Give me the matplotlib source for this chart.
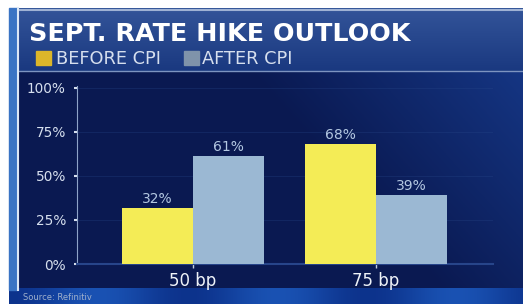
import numpy as np
import matplotlib
matplotlib.use("Agg")
import matplotlib.pyplot as plt
from matplotlib.patches import Rectangle

# data
categories = ["50 bp", "75 bp"]
before_cpi = [32, 68]
after_cpi = [61, 39]
y_ticks = [0, 25, 50, 75, 100]
y_tick_labels = ["0%", "25%", "50%", "75%", "100%"]

TITLE = "SEPT. RATE HIKE OUTLOOK"
LEGEND = ["BEFORE CPI", "AFTER CPI"]
SOURCE = "Source: Refinitiv"

YELLOW = "#f4ec56"
BLUE = "#9bb8d3"
TEXT = "#d6dfee"
W, H = 523, 304

plt.rcParams["font.family"] = ["DejaVu Sans"]
fig = plt.figure(figsize=(W / 100, H / 100), dpi=100, facecolor="white")

# background layer in pixel coords (y down)
bg = fig.add_axes([0, 0, 1, 1], zorder=0)
bg.set_xlim(0, W)
bg.set_ylim(H, 0)
bg.axis("off")

# dark navy panel with lighter diagonal toward the right
yy, xx = np.mgrid[0:1:200j, 0:1:300j]
diag = np.clip((xx - 0.55) * 1.6 - (yy - 0.2) * 0.6, 0, 1)
c0 = np.array([0.04, 0.10, 0.32])
c1 = np.array([0.09, 0.23, 0.55])
img = c0 + (c1 - c0) * diag[..., None]
bg.imshow(img, extent=(9, W, 290, 72), aspect="auto", zorder=1)

# bottom bright band
band = np.linspace(0, 1, 300)
bimg = np.array([0.05, 0.20, 0.55]) + np.array([0.05, 0.12, 0.15]) * np.sin(band * 9)[None, :, None] ** 2
bimg = np.repeat(bimg, 10, axis=0)
bg.imshow(np.clip(bimg, 0, 1), extent=(9, W, H, 288), aspect="auto", zorder=1)

# title banner gradient
t = np.linspace(0, 1, 100)[:, None, None]
top = np.array([0.20, 0.33, 0.60])
bot = np.array([0.10, 0.22, 0.50])
banner = np.repeat(top + (bot - top) * t, 10, axis=1)
bg.imshow(banner, extent=(12, W, 72, 8), aspect="auto", zorder=2)
bg.plot([12, W], [9.5, 9.5], color="#9fb2d4", lw=1.5, zorder=3)
bg.plot([12, W], [71, 71], color="#7d94c0", lw=1.0, zorder=3)

# left edge strip
bg.add_patch(Rectangle((9, 8), 8, 282, color="#3a74c4", zorder=3))
bg.plot([17.5, 17.5], [8, 290], color="#dbe7f5", lw=1.5, zorder=4)

# title + legend
bg.text(29, 34, TITLE, color="white", fontsize=18.3, fontweight="bold",
        va="center", ha="left", zorder=5)
bg.add_patch(Rectangle((36, 51), 15, 14, color="#dcb62a", zorder=5))
bg.text(56, 58.5, LEGEND[0], color=TEXT, fontsize=12.8, va="center", zorder=5)
bg.add_patch(Rectangle((184, 51), 15, 14, color="#7f93aa", zorder=5))
bg.text(202, 58.5, LEGEND[1], color=TEXT, fontsize=12.8, va="center", zorder=5)

bg.text(23, 297, SOURCE, color="#9fb0cc", fontsize=6, va="center", zorder=5)

# chart
ax = fig.add_axes([77 / W, 40 / H, (493 - 77) / W, (264 - 86) / H], zorder=2)
ax.patch.set_alpha(0)
x = np.arange(len(categories))
bw = 0.39
b1 = ax.bar(x - bw / 2, before_cpi, bw, color=YELLOW, zorder=3)
b2 = ax.bar(x + bw / 2, after_cpi, bw, color=BLUE, zorder=3)
for bars in (b1, b2):
    for r in bars:
        ax.annotate(f"{r.get_height():.0f}%", (r.get_x() + r.get_width() / 2, r.get_height()),
                    xytext=(0, 1.5), textcoords="offset points", ha="center", va="bottom",
                    color="#b4c8e2", fontsize=10)

ax.set_xlim(-0.634, 1.64)
ax.set_ylim(0, 101)
ax.set_yticks(y_ticks, y_tick_labels)
ax.set_xticks(x, categories)
ax.tick_params(axis="y", colors=TEXT, labelsize=9.8, length=2, width=1.5, pad=6)
ax.tick_params(axis="x", colors="#c0cde0", labelcolor="#eef2f8", labelsize=12,
               length=3, width=1, pad=3)
for y in y_ticks[1:]:
    ax.axhline(y, color="#2a4a8c", lw=0.5, alpha=0.4, zorder=1)
for s in ("top", "right"):
    ax.spines[s].set_visible(False)
ax.spines["left"].set_color("#8ea3c8")
ax.spines["left"].set_linewidth(0.8)
ax.spines["bottom"].set_color("#27458a")
ax.spines["bottom"].set_linewidth(1.5)

fig.savefig("out.png", dpi=100, facecolor="white")
